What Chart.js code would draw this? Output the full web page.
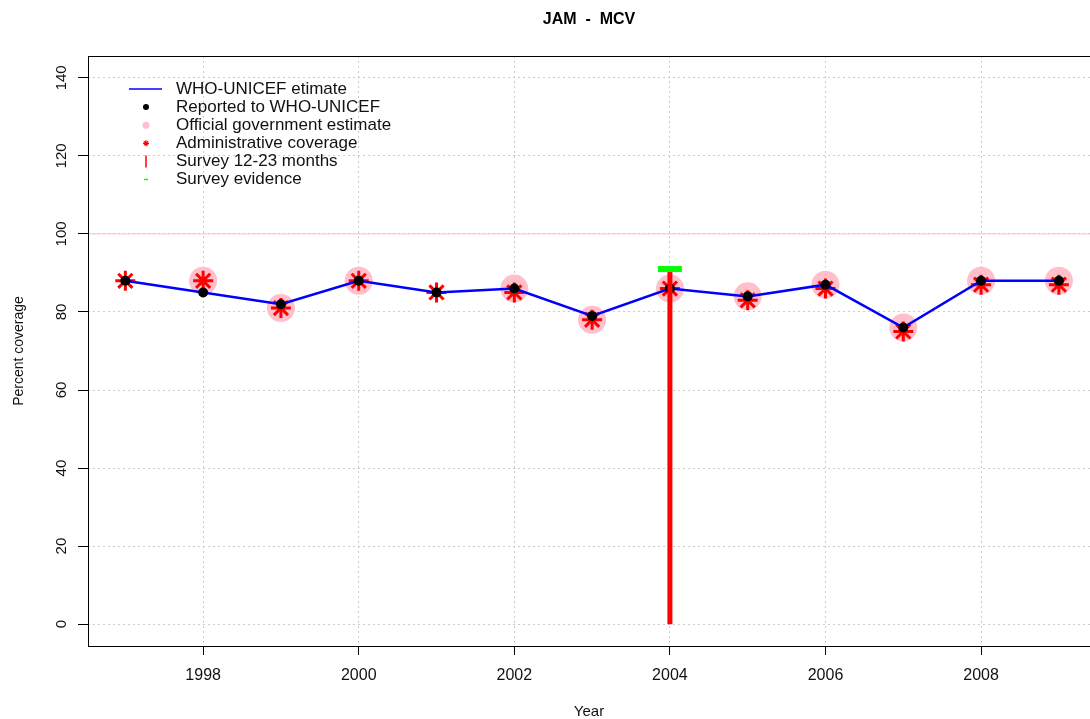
<!DOCTYPE html>
<html>
<head>
<meta charset="utf-8">
<script src="https://cdn.jsdelivr.net/npm/chart.js@4.4.0/dist/chart.umd.min.js"></script>
<style>
  html, body { margin: 0; padding: 0; background: #fff; overflow: hidden; }
  #wrap { width: 1090px; height: 719px; position: relative; }
  canvas { display: block; }
</style>
</head>
<body>
<div id="wrap"><canvas id="cov-chart"></canvas></div>
<script>
const years    = [1997, 1998, 1999, 2000, 2001, 2002, 2003, 2004, 2005, 2006, 2007, 2008, 2009];
const wuenic   = [88, 85, 82, 88, 85, 86, 79, 86, 84, 87, 76, 88, 88];
const reported = [88, 85, 82, 88, 85, 86, 79, 86, 84, 87, 76, 88, 88];
const official = [null, 88, 81, 88, null, 86, 78, 86, 84, 87, 76, 88, 88];
const admin    = [88, 88, 81, 88, 85, 85, 78, 86, 83, 86, 75, 87, 87];

const surveyYears    = [2004];
const survey1223     = [91];
const surveyEvidence = [91];
const surveyBase     = 0;
const refLevel       = 100;

const xTicks = [1998, 2000, 2002, 2004, 2006, 2008];
const yTicks = [0, 20, 40, 60, 80, 100, 120, 140];
const xLimits = [1996.52, 2009.40];
const yLimits = [-5.6, 145.6];

const chartTitle = "JAM  -  MCV";
const legendLabels = [
  "WHO-UNICEF etimate",
  "Reported to WHO-UNICEF",
  "Official government estimate",
  "Administrative coverage",
  "Survey 12-23 months",
  "Survey evidence"
];

const FONT = "'Liberation Sans', Arial, Helvetica, sans-serif";

function pts(xs, ys) {
  const out = [];
  xs.forEach(function (x, i) {
    if (ys[i] !== null) out.push({ x: x, y: ys[i] });
  });
  return out;
}

const surveyBars = [];
surveyYears.forEach(function (yr, i) {
  surveyBars.push({ x: yr, y: surveyBase }, { x: yr, y: survey1223[i] });
});

// title, legend, rotated y labels and frame drawn like the R plot
const rDecor = {
  id: "rDecor",
  afterDraw: function (chart) {
    const ctx = chart.ctx;
    const area = chart.chartArea;
    const yScale = chart.scales.y;

    ctx.save();
    // frame
    ctx.strokeStyle = "#000";
    ctx.lineWidth = 1;
    ctx.strokeRect(area.left + 0.5, area.top + 0.5, area.right - area.left, area.bottom - area.top);

    // title
    ctx.fillStyle = "#000";
    ctx.font = "bold 16px " + FONT;
    ctx.textAlign = "center";
    ctx.textBaseline = "middle";
    ctx.fillText(chartTitle, (area.left + area.right) / 2, 20);

    // y tick labels, rotated like R default
    ctx.font = "15px " + FONT;
    ctx.fillStyle = "#111";
    yScale.ticks.forEach(function (t) {
      const py = yScale.getPixelForValue(t.value);
      ctx.save();
      ctx.translate(62, py);
      ctx.rotate(-Math.PI / 2);
      ctx.textAlign = "center";
      ctx.textBaseline = "middle";
      ctx.fillText(String(t.value), 0, 0);
      ctx.restore();
    });

    // legend
    const symX = 146, textX = 176, rowY = 89, rowH = 18.1;
    ctx.font = "17px " + FONT;
    ctx.textAlign = "left";
    ctx.textBaseline = "middle";
    legendLabels.forEach(function (lab, i) {
      const y = rowY + i * rowH;
      ctx.fillStyle = "#111";
      ctx.fillText(lab, textX, y);
      if (i === 0) {
        ctx.strokeStyle = "#0000ff";
        ctx.lineWidth = 1.5;
        ctx.beginPath(); ctx.moveTo(129, y); ctx.lineTo(162, y); ctx.stroke();
      } else if (i === 1) {
        ctx.fillStyle = "#000";
        ctx.beginPath(); ctx.arc(symX, y, 3, 0, Math.PI * 2); ctx.fill();
      } else if (i === 2) {
        ctx.fillStyle = "#ffc0cb";
        ctx.beginPath(); ctx.arc(symX, y, 3.5, 0, Math.PI * 2); ctx.fill();
      } else if (i === 3) {
        ctx.strokeStyle = "#ff0000";
        ctx.lineWidth = 1.2;
        ctx.beginPath();
        for (let k = 0; k < 4; k++) {
          const a = k * Math.PI / 4;
          ctx.moveTo(symX - 3 * Math.cos(a), y - 3 * Math.sin(a));
          ctx.lineTo(symX + 3 * Math.cos(a), y + 3 * Math.sin(a));
        }
        ctx.stroke();
      } else if (i === 4) {
        ctx.strokeStyle = "#ff0000";
        ctx.lineWidth = 1.5;
        ctx.beginPath(); ctx.moveTo(symX, y - 6); ctx.lineTo(symX, y + 6); ctx.stroke();
      } else {
        ctx.strokeStyle = "#00ff00";
        ctx.lineWidth = 1.5;
        ctx.beginPath(); ctx.moveTo(symX - 2, y); ctx.lineTo(symX + 2, y); ctx.stroke();
      }
    });
    ctx.restore();
  }
};

new Chart(document.getElementById("cov-chart"), {
  type: "scatter",
  data: {
    datasets: [
      {
        label: "ref",
        data: [{ x: xLimits[0], y: refLevel }, { x: xLimits[1], y: refLevel }],
        showLine: true, borderColor: "#ffc0cb", borderWidth: 1, pointRadius: 0, order: 7
      },
      {
        label: legendLabels[2],
        data: pts(years, official),
        pointRadius: 14, pointBackgroundColor: "#ffc0cb", pointBorderWidth: 0, order: 6
      },
      {
        label: legendLabels[3],
        data: pts(years, admin),
        pointStyle: "star", pointRadius: 10, pointBorderColor: "#ff0000", pointBorderWidth: 3, order: 5
      },
      {
        label: legendLabels[0],
        data: pts(years, wuenic),
        showLine: true, borderColor: "#0000ff", borderWidth: 2.5, pointRadius: 0, order: 4
      },
      {
        label: legendLabels[1],
        data: pts(years, reported),
        pointRadius: 5, pointBackgroundColor: "#000", pointBorderWidth: 0, order: 3
      },
      {
        label: legendLabels[4],
        data: surveyBars,
        showLine: true, borderColor: "#ff0000", borderWidth: 5, borderCapStyle: "butt", pointRadius: 0, order: 2
      },
      {
        label: legendLabels[5],
        data: pts(surveyYears, surveyEvidence),
        pointStyle: "line", pointRadius: 12, pointBorderColor: "#00ff00", pointBorderWidth: 6, order: 1
      }
    ]
  },
  options: {
    responsive: true,
    maintainAspectRatio: false,
    animation: false,
    events: [],
    layout: { autoPadding: false, padding: { top: 56, left: 0, right: 0, bottom: 0 } },
    plugins: {
      legend: { display: false },
      title: { display: false },
      tooltip: { enabled: false }
    },
    scales: {
      x: {
        type: "linear",
        min: xLimits[0],
        max: xLimits[1],
        afterBuildTicks: function (s) { s.ticks = xTicks.map(function (v) { return { value: v }; }); },
        afterFit: function (s) { s.height = 73; s.paddingLeft = 0; s.paddingRight = 0; },
        border: { display: false, dash: [2, 3] },
        grid: { color: "#cccccc", tickColor: "#000", tickLength: 9, tickBorderDash: [] },
        ticks: {
          color: "#111",
          font: { family: FONT, size: 16 },
          padding: 11,
          maxRotation: 0,
          callback: function (v) { return String(v); }
        },
        title: {
          display: true, text: "Year", color: "#111",
          font: { family: FONT, size: 15, lineHeight: 1 },
          padding: { top: 0, bottom: 0 }
        }
      },
      y: {
        type: "linear",
        min: yLimits[0],
        max: yLimits[1],
        afterBuildTicks: function (s) { s.ticks = yTicks.map(function (v) { return { value: v }; }); },
        afterFit: function (s) { s.width = 88; s.paddingTop = 0; s.paddingBottom = 0; },
        border: { display: false, dash: [2, 3] },
        grid: { color: "#cccccc", tickColor: "#000", tickLength: 10, tickBorderDash: [] },
        ticks: { display: false },
        title: {
          display: true, text: "Percent coverage", color: "#111",
          font: { family: FONT, size: 14, lineHeight: 1 },
          padding: { top: 12, bottom: 0 }
        }
      }
    }
  },
  plugins: [rDecor]
});
</script>
</body>
</html>
